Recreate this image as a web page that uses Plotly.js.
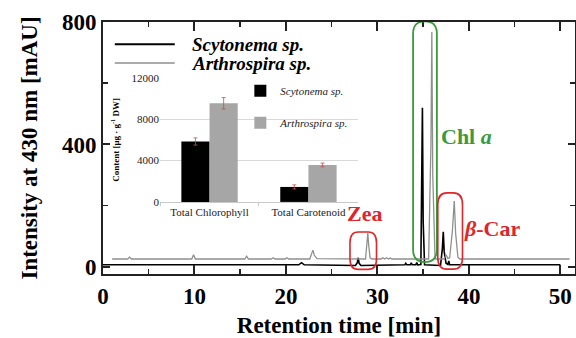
<!DOCTYPE html>
<html>
<head>
<meta charset="utf-8">
<script src="https://cdn.plot.ly/plotly-3.0.1.min.js"></script>
<style>html,body{margin:0;padding:0;background:#fff;}#chart{width:576px;height:338px;}</style>
</head>
<body>
<div id="chart"></div>
<script>
// Chromatogram: Scytonema sp. (black)
var scyTime = [0, 21.4, 21.7, 22.0, 27.6, 27.8, 27.9, 28.0, 28.2, 33.0, 33.1, 33.2, 33.6, 33.7, 33.8, 34.2, 34.3, 34.4, 34.75, 34.85, 34.92, 35.0, 35.15, 36.9, 37.1, 37.2, 37.3, 37.5, 37.7, 37.8, 37.9, 50];
var scyIntensity = [7, 7, 14, 7, 5, 14, 30, 12, 5, 7, 12, 7, 7, 13, 7, 7, 14, 7, 8, 250, 520, 150, 7, 5, 60, 115, 50, 12, 8, 20, 7, 7];
// Chromatogram: Arthrospira sp. (gray)
var arthTime = [1.0, 2.7, 2.9, 3.1, 9.7, 9.9, 10.1, 15.5, 15.7, 15.9, 18.4, 18.6, 18.8, 19.9, 20.1, 20.3, 22.6, 22.8, 22.95, 23.1, 23.4, 28.7, 28.85, 28.95, 29.05, 29.2, 29.4, 30.4, 30.6, 30.8, 31.0, 31.2, 31.4, 31.6, 35.6, 35.85, 35.95, 36.05, 36.3, 37.3, 37.5, 37.7, 37.9, 38.2, 38.4, 38.55, 38.8, 39.0, 51.0];
var arthIntensity = [26, 26, 32, 26, 26, 40, 26, 26, 35, 26, 26, 30, 26, 26, 30, 26, 26, 40, 55, 38, 27, 26, 70, 111, 70, 30, 26, 26, 30, 26, 30, 26, 29, 26, 26, 400, 767, 300, 26, 26, 40, 28, 30, 120, 215, 110, 32, 26, 26];

// Inset bar chart
var insetCategories = ["Total Chlorophyll", "Total Carotenoid"];
var scyContent = [5850, 1450];
var scyError = [350, 200];
var arthContent = [9550, 3580];
var arthError = [550, 180];

// Highlighted peak regions [x0, x1, y0, y1]
var zeaRegion = [27.0, 29.9, -8, 114];
var chlRegion = [33.9, 36.5, 16, 802];
var carRegion = [36.6, 39.3, -7, 242];

var SERIF = "Liberation Serif";
var RED = "#e2242b";
var GREEN = "#3b9a3b";

function roundRect(r, rx, ry) {
  var x0 = r[0], x1 = r[1], y0 = r[2], y1 = r[3];
  return "M" + (x0 + rx) + "," + y1 +
    " L" + (x1 - rx) + "," + y1 +
    " Q" + x1 + "," + y1 + " " + x1 + "," + (y1 - ry) +
    " L" + x1 + "," + (y0 + ry) +
    " Q" + x1 + "," + y0 + " " + (x1 - rx) + "," + y0 +
    " L" + (x0 + rx) + "," + y0 +
    " Q" + x0 + "," + y0 + " " + x0 + "," + (y0 + ry) +
    " L" + x0 + "," + (y1 - ry) +
    " Q" + x0 + "," + y1 + " " + (x0 + rx) + "," + y1 + " Z";
}

var traces = [
  {x: scyTime, y: scyIntensity, type: "scatter", mode: "lines", name: "Scytonema sp.",
   line: {color: "#000000", width: 1.6}, xaxis: "x", yaxis: "y", showlegend: false},
  {x: arthTime, y: arthIntensity, type: "scatter", mode: "lines", name: "Arthrospira sp.",
   line: {color: "#8f8f8f", width: 1.3}, xaxis: "x", yaxis: "y", showlegend: false},
  {x: insetCategories, y: scyContent, type: "bar", name: "Scytonema sp.",
   marker: {color: "#000000"}, xaxis: "x2", yaxis: "y2", legendgroup: "a",
   error_y: {type: "data", array: scyError, color: "#c0504d", thickness: 0.8, width: 2}},
  {x: insetCategories, y: arthContent, type: "bar", name: "Arthrospira sp.",
   marker: {color: "#a6a6a6"}, xaxis: "x2", yaxis: "y2", legendgroup: "b",
   error_y: {type: "data", array: arthError, color: "#c0504d", thickness: 0.8, width: 2}}
];

// Main chromatogram legend (line samples + labels), placed in paper coordinates
var legendLabels = ["Scytonema sp.", "Arthrospira sp."];
var legendColors = ["#000000", "#8f8f8f"];
var legendWidths = [2, 1.5];
var legendRowsY = [0.912, 0.837];

var shapes = [
  {type: "path", xref: "x", yref: "y", path: roundRect(zeaRegion, 0.9, 35), line: {color: RED, width: 1.6}},
  {type: "path", xref: "x", yref: "y", path: roundRect(chlRegion, 1.3, 40), line: {color: GREEN, width: 1.8}},
  {type: "path", xref: "x", yref: "y", path: roundRect(carRegion, 1.0, 38), line: {color: RED, width: 1.6}}
];
var annotations = [
  {x: 28.6, y: 174, xref: "x", yref: "y", text: "<b>Zea</b>", showarrow: false,
   font: {family: SERIF, size: 22, color: RED}},
  {x: 39.7, y: 426, xref: "x", yref: "y", text: "<b>Chl <i>a</i></b>", showarrow: false,
   font: {family: SERIF, size: 22, color: GREEN}},
  {x: 42.5, y: 125, xref: "x", yref: "y", text: "<b><i>β</i>-Car</b>", showarrow: false,
   font: {family: SERIF, size: 22, color: RED}}
];
legendLabels.forEach(function (lab, i) {
  shapes.push({type: "line", xref: "paper", yref: "paper", x0: 0.025, x1: 0.152,
    y0: legendRowsY[i], y1: legendRowsY[i], line: {color: legendColors[i], width: legendWidths[i]}});
  annotations.push({xref: "paper", yref: "paper", x: 0.184, y: legendRowsY[i], xanchor: "left", yanchor: "middle",
    text: "<b><i>" + lab + "</i></b>", showarrow: false,
    font: {family: SERIF, size: 19, color: "#000"}});
});

var layout = {
  width: 576, height: 338,
  margin: {l: 103, r: 1, t: 22, b: 64},
  paper_bgcolor: "#ffffff", plot_bgcolor: "rgba(0,0,0,0)",
  font: {family: SERIF, color: "#000"},
  barmode: "group", bargap: 0.43, bargroupgap: 0,
  xaxis: {
    domain: [0, 1], range: [0, 51.6], tick0: 0, dtick: 10,
    ticks: "inside", ticklen: 9, tickwidth: 2, tickcolor: "#222",
    minor: {dtick: 5, ticks: "inside", ticklen: 5, tickwidth: 1.5, tickcolor: "#222"},
    showline: true, linewidth: 2, linecolor: "#222", mirror: "allticks",
    showgrid: false, zeroline: false,
    tickfont: {family: SERIF, size: 23, weight: "bold", color: "#000"},
    title: {text: "<b>Retention time [min]</b>", font: {family: SERIF, size: 23, color: "#000"}, standoff: 13}
  },
  yaxis: {
    domain: [0, 1], range: [-23, 800], tick0: 0, dtick: 400,
    ticks: "inside", ticklen: 7, tickwidth: 2, tickcolor: "#222",
    minor: {dtick: 200, ticks: "inside", ticklen: 5, tickwidth: 1.5, tickcolor: "#222"},
    showline: true, linewidth: 2, linecolor: "#222", mirror: "allticks",
    showgrid: false, zeroline: false,
    tickfont: {family: SERIF, size: 23, weight: "bold", color: "#000"},
    title: {text: "<b>Intensity at 430 nm [mAU]</b>", font: {family: SERIF, size: 23, color: "#000"}, standoff: 18}
  },
  xaxis2: {
    domain: [0.121, 0.540], anchor: "y2",
    showline: true, linecolor: "#c8c8c8", linewidth: 1,
    ticks: "outside", tickson: "boundaries", ticklen: 3, tickcolor: "#c8c8c8",
    showgrid: false, zeroline: false,
    tickfont: {family: SERIF, size: 11, color: "#222"}
  },
  yaxis2: {
    domain: [0.286, 0.778], anchor: "x2", range: [0, 12000], dtick: 4000, tickformat: "d",
    showgrid: true, gridcolor: "#d9d9d9", gridwidth: 1, zeroline: false,
    showline: false, ticks: "",
    tickfont: {family: SERIF, size: 11, color: "#222"},
    title: {text: "<b>Content [μg · g<sup>-1</sup> DW]</b>", font: {family: SERIF, size: 9, color: "#000"}, standoff: 10}
  },
  showlegend: true,
  legend: {
    x: 0.291, y: 0.785, xanchor: "left", yanchor: "top",
    bgcolor: "rgba(0,0,0,0)", borderwidth: 0, traceorder: "grouped", tracegroupgap: 13,
    font: {family: SERIF, size: 11, style: "italic", color: "#222"}
  },
  shapes: shapes,
  annotations: annotations
};

Plotly.newPlot("chart", traces, layout, {displayModeBar: false, staticPlot: true});
</script>
</body>
</html>
